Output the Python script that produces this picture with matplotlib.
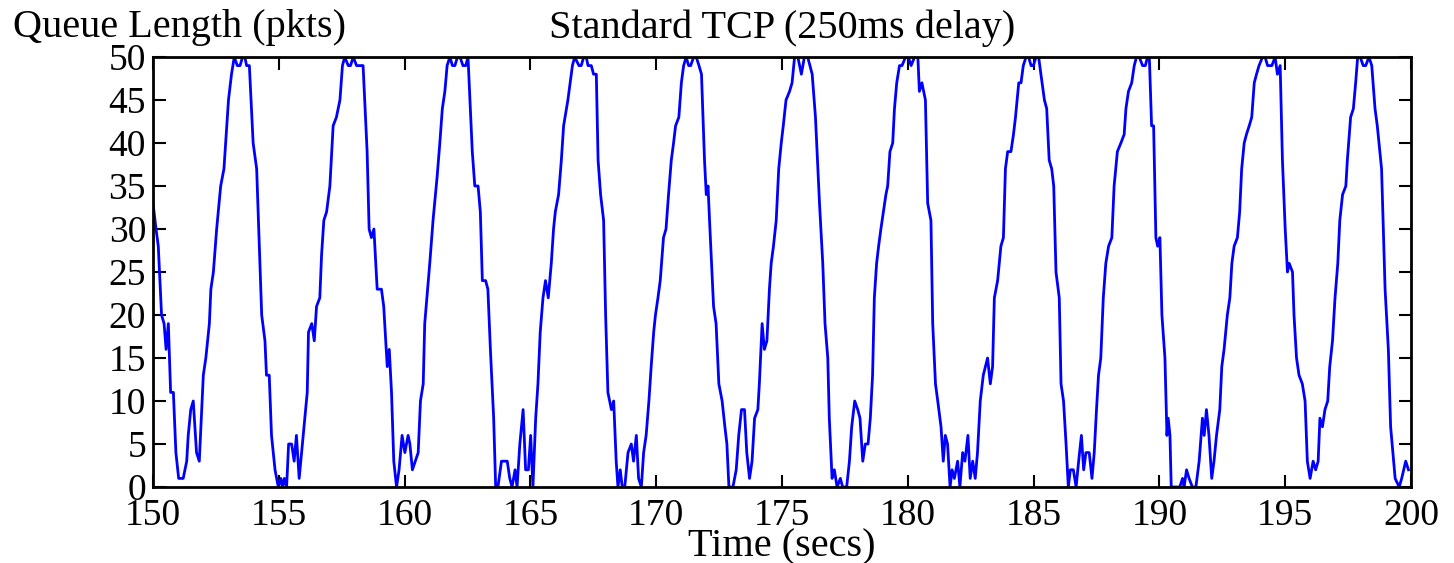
import matplotlib
matplotlib.use('Agg')
import matplotlib.pyplot as plt

# queue trace (time in secs, queue in pkts)
time_secs = [
    150.0, 150.12, 150.21, 150.34, 150.44, 150.52, 150.61, 150.70, 150.81, 150.91,
    151.02, 151.2, 151.34, 151.4, 151.5, 151.6, 151.73, 151.84, 152.0, 152.1,
    152.24, 152.3, 152.4, 152.53, 152.69, 152.82, 153.0, 153.12, 153.23, 153.35,
    153.46, 153.56, 153.65, 153.72, 153.83, 153.98, 154.12, 154.32, 154.45, 154.51,
    154.62, 154.71, 154.85, 154.98, 155.08, 155.15, 155.22, 155.31, 155.39, 155.51,
    155.61, 155.7, 155.81, 156.0, 156.13, 156.18, 156.31, 156.41, 156.5, 156.63,
    156.7, 156.79, 156.9, 157.03, 157.16, 157.29, 157.43, 157.53, 157.62, 157.76,
    157.85, 157.96, 158.09, 158.35, 158.51, 158.59, 158.68, 158.78, 158.91, 159.08,
    159.17, 159.31, 159.39, 159.48, 159.57, 159.68, 159.78, 159.9, 160.01, 160.14,
    160.21, 160.31, 160.54, 160.63, 160.74, 160.8, 160.94, 161.0, 161.13, 161.29,
    161.4, 161.5, 161.6, 161.69, 161.8, 161.9, 162.0, 162.1, 162.2, 162.32,
    162.43, 162.52, 162.69, 162.79, 162.92, 163.01, 163.09, 163.22, 163.31, 163.41,
    163.54, 163.62, 163.71, 163.85, 164.08, 164.18, 164.27, 164.39, 164.47, 164.58,
    164.71, 164.81, 164.92, 165.01, 165.1, 165.21, 165.3, 165.39, 165.5, 165.6,
    165.71, 165.83, 165.92, 165.99, 166.12, 166.23, 166.32, 166.49, 166.67, 166.76,
    166.93, 167.02, 167.12, 167.22, 167.29, 167.42, 167.51, 167.62, 167.69, 167.79,
    167.91, 167.99, 168.08, 168.22, 168.31, 168.41, 168.48, 168.57, 168.65, 168.75,
    168.88, 169.01, 169.1, 169.21, 169.3, 169.41, 169.5, 169.6, 169.71, 169.8,
    169.9, 169.97, 170.07, 170.16, 170.24, 170.29, 170.39, 170.49, 170.6, 170.69,
    170.77, 170.9, 171.0, 171.09, 171.19, 171.29, 171.37, 171.49, 171.59, 171.7,
    171.8, 171.92, 171.99, 172.06, 172.12, 172.28, 172.38, 172.49, 172.62, 172.73,
    172.81, 172.89, 173.05, 173.18, 173.28, 173.39, 173.51, 173.6, 173.71, 173.81,
    173.91, 174.04, 174.1, 174.21, 174.3, 174.4, 174.5, 174.57, 174.66, 174.77,
    174.87, 174.97, 175.05, 175.16, 175.3, 175.4, 175.5, 175.63, 175.77, 175.89,
    176.02, 176.2, 176.33, 176.49, 176.62, 176.71, 176.82, 176.88, 176.99, 177.08,
    177.19, 177.32, 177.41, 177.57, 177.68, 177.77, 177.89, 178.01, 178.1, 178.21,
    178.31, 178.42, 178.51, 178.6, 178.67, 178.76, 178.84, 178.93, 179.03, 179.13,
    179.2, 179.29, 179.4, 179.47, 179.56, 179.67, 179.77, 179.91, 180.02, 180.13,
    180.27, 180.4, 180.46, 180.56, 180.7, 180.79, 180.92, 180.99, 181.1, 181.19,
    181.32, 181.41, 181.49, 181.58, 181.68, 181.76, 181.85, 181.98, 182.07, 182.18,
    182.27, 182.39, 182.48, 182.58, 182.68, 182.77, 182.88, 183.0, 183.17, 183.28,
    183.37, 183.44, 183.57, 183.7, 183.8, 183.88, 183.97, 184.1, 184.2, 184.28,
    184.41, 184.5, 184.59, 184.7, 184.8, 184.9, 184.99, 185.1, 185.2, 185.29,
    185.43, 185.52, 185.62, 185.72, 185.8, 185.89, 186.02, 186.09, 186.19, 186.29,
    186.38, 186.46, 186.58, 186.69, 186.79, 186.9, 186.99, 187.08, 187.21, 187.32,
    187.41, 187.5, 187.58, 187.67, 187.77, 187.87, 187.98, 188.11, 188.2, 188.33,
    188.47, 188.6, 188.67, 188.77, 188.9, 189.0, 189.09, 189.2, 189.33, 189.44,
    189.53, 189.6, 189.69, 189.77, 189.86, 189.93, 190.02, 190.1, 190.22, 190.3,
    190.35, 190.42, 190.47, 190.65, 190.81, 190.92, 190.98, 191.08, 191.18, 191.31,
    191.45, 191.58, 191.71, 191.78, 191.87, 191.97, 192.08, 192.17, 192.27, 192.4,
    192.48, 192.57, 192.7, 192.8, 192.88, 192.97, 193.1, 193.19, 193.27, 193.37,
    193.46, 193.57, 193.67, 193.77, 193.86, 193.96, 194.1, 194.2, 194.3, 194.47,
    194.6, 194.69, 194.8, 194.89, 195.0, 195.09, 195.16, 195.29, 195.35, 195.45,
    195.55, 195.68, 195.79, 195.88, 195.99, 196.11, 196.21, 196.31, 196.38, 196.48,
    196.58, 196.69, 196.77, 196.88, 196.98, 197.09, 197.17, 197.28, 197.41, 197.47,
    197.6, 197.71, 197.8, 197.88, 197.98, 198.1, 198.2, 198.33, 198.44, 198.57,
    198.66, 198.83, 198.97, 199.1, 199.19, 199.28, 199.37, 199.53, 199.63, 199.79,
    199.9,
]
queue_pkts = [
    33, 30, 28, 20, 19, 16, 19, 11, 11, 4,
    1, 1, 3, 6, 9, 10, 4, 3, 13, 15,
    19, 23, 25, 30, 35, 37, 45, 48, 50, 49,
    49, 50, 50, 49, 49, 40, 37, 20, 17, 13,
    13, 6, 2, 0, 1, 0, 1, 0, 5, 5,
    3, 6, 1, 7, 11, 18, 19, 17, 21, 22,
    27, 31, 32, 35, 42, 43, 45, 49, 50, 49,
    49, 50, 49, 49, 39, 30, 29, 30, 23, 23,
    21, 14, 16, 11, 3, 0, 2, 6, 4, 6,
    5, 2, 4, 10, 12, 19, 24, 26, 31, 36,
    40, 44, 46, 49, 50, 49, 49, 50, 50, 49,
    49, 50, 39, 35, 35, 32, 24, 24, 23, 16,
    8, 0, 0, 3, 3, 1, 0, 2, 0, 5,
    9, 2, 2, 6, 0, 8, 12, 18, 22, 24,
    22, 26, 30, 32, 34, 38, 42, 45, 49, 50,
    49, 49, 50, 50, 49, 49, 48, 48, 38, 34,
    31, 20, 11, 9, 10, 3, 0, 2, 0, 0,
    4, 5, 3, 6, 1, 0, 4, 6, 10, 14,
    18, 20, 22, 24, 27, 29, 30, 34, 38, 40,
    42, 43, 47, 49, 50, 49, 49, 50, 50, 49,
    48, 38, 34, 35, 31, 21, 19, 12, 10, 7,
    5, 0, 0, 2, 6, 9, 9, 4, 1, 3,
    8, 9, 12, 19, 16, 17, 23, 26, 28, 31,
    37, 40, 42, 45, 46, 47, 50, 50, 48, 50,
    50, 48, 43, 33, 26, 19, 15, 8, 1, 2,
    0, 1, 0, 0, 3, 7, 10, 9, 8, 3,
    5, 5, 8, 13, 22, 26, 28, 30, 32, 34,
    35, 39, 40, 44, 47, 49, 49, 50, 50, 49,
    50, 50, 46, 47, 45, 33, 31, 19, 12, 10,
    7, 3, 6, 5, 0, 2, 1, 3, 0, 4,
    3, 6, 1, 3, 1, 4, 10, 13, 15, 12,
    14, 22, 24, 28, 29, 37, 39, 39, 41, 43,
    47, 47, 49, 50, 50, 49, 49, 50, 50, 48,
    45, 44, 38, 37, 35, 25, 22, 12, 10, 5,
    0, 2, 2, 0, 3, 6, 2, 4, 4, 1,
    4, 9, 13, 15, 22, 26, 28, 29, 35, 39,
    40, 41, 44, 46, 47, 49, 50, 50, 49, 49,
    50, 50, 42, 42, 29, 28, 29, 20, 15, 6,
    8, 6, 0, 0, 0, 1, 0, 2, 1, 0,
    0, 3, 8, 6, 9, 6, 1, 3, 6, 9,
    14, 16, 20, 22, 26, 28, 29, 32, 37, 40,
    41, 42, 43, 47, 48, 49, 50, 50, 49, 49,
    50, 48, 49, 38, 30, 25, 26, 25, 20, 15,
    13, 12, 10, 3, 1, 3, 2, 3, 8, 7,
    9, 10, 14, 17, 22, 26, 31, 34, 35, 38,
    43, 44, 47, 50, 50, 49, 49, 50, 49, 44,
    42, 37, 23, 16, 7, 4, 1, 0, 1, 3,
    2,
]
x_ticks = list(range(150, 201, 5))
y_ticks = list(range(0, 51, 5))

plt.rcParams['font.family'] = ['Liberation Serif', 'DejaVu Serif']

fig = plt.figure(figsize=(14.54, 5.63), dpi=100)
ax = fig.add_axes([153 / 1454, 1 - 487 / 563, 1258 / 1454, 430 / 563])

ax.plot(time_secs, queue_pkts, color='#0000ff', linewidth=2.0)

ax.set_xlim(150, 200)
ax.set_ylim(0, 50)
ax.set_xticks(x_ticks)
ax.set_yticks(y_ticks)
ax.tick_params(direction='in', length=9, width=1.5, top=True, right=True,
               labelsize=27, pad=5)
ax.tick_params(axis='x', pad=8)
for s in ax.spines.values():
    s.set_linewidth(2.0)

ax.set_title('Standard TCP (250ms delay)', fontsize=29, pad=14)
ax.set_xlabel('Time (secs)', fontsize=29, labelpad=-3)
fig.text(13 / 1454, 1 - 37 / 563, 'Queue Length (pkts)', fontsize=29,
         ha='left', va='baseline')

fig.savefig('out.png', dpi=100)
